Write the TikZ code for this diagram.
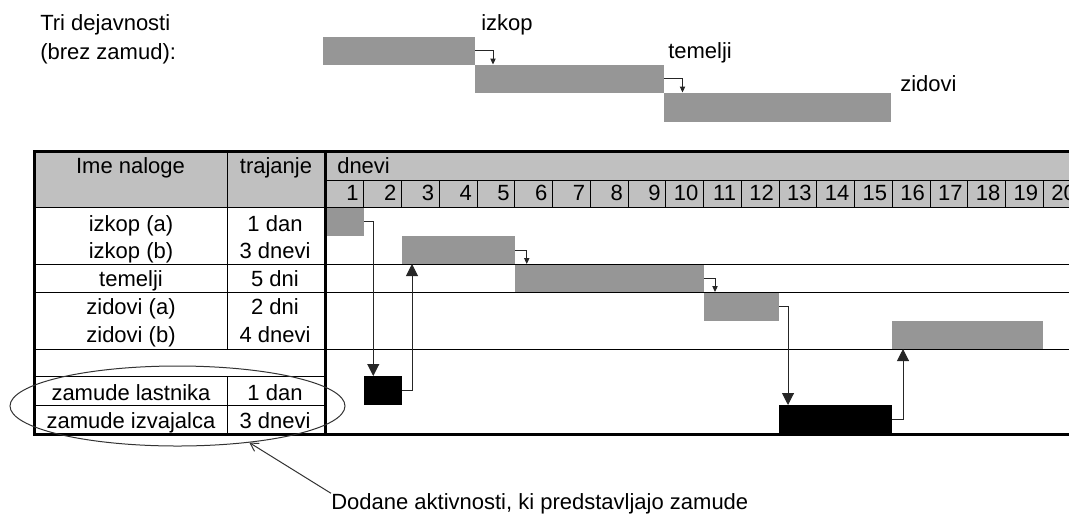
\documentclass[tikz,border=0pt]{standalone}
\usepackage{fontspec}
\setmainfont{Liberation Sans}
\usetikzlibrary{arrows.meta,calc,fit,shapes.geometric}

\definecolor{headgrey}{HTML}{C0C0C0}
\definecolor{bargrey}{HTML}{969696}

\tikzset{
  txt/.style={anchor=base west, inner sep=0pt},
  cell/.style={anchor=base, inner sep=0pt},
  daynum/.style={anchor=base east, inner sep=0pt},
  task/.style={fill=bargrey, inner sep=0pt, outer sep=0pt},
  delay/.style={fill=black, inner sep=0pt, outer sep=0pt},
  gridline/.style={line width=0.75pt},
  frame/.style={line width=2.25pt},
  dep/.style={line width=0.75pt, black!85, -{Triangle[length=9pt,width=9pt]}},
  link/.style={line width=0.75pt, black!85, -{Triangle[length=4.5pt,width=4pt]}},
  pointer/.style={line width=0.75pt, black!80, -{Straight Barb[length=6pt,width=7pt]}}
}

\begin{document}
\begin{tikzpicture}[x=0.75pt, y=-0.75pt, font=\fontsize{16.5}{20}\selectfont]
\clip (0,0) rectangle (1069,515);

% the three activities without delays
\node[txt] (intro) at (40,30.5) {Tri dejavnosti};
\node[txt] (intro2) at (40,59) {(brez zamud):};

\node[task, fit={(323,37) (475,64.5)}] (t1) {};
\node[task, fit={(475,64.5) (663.5,92.5)}] (t2) {};
\node[task, fit={(663.5,92.5) (890.5,122)}] (t3) {};

\node[txt] (t1name) at (481,30.5) {izkop};
\node[txt] (t2name) at (668,58) {temelji};
\node[txt] (t3name) at (900,91) {zidovi};

\draw[link] (t1.east) -| ($(t2.north west)+(18,0)$);
\draw[link] (t2.east) -| ($(t3.north west)+(19,0)$);

% table header
\fill[headgrey] (34,151) rectangle (1081,207);
\node[cell] (hname) at (130.5,173) {Ime naloge};
\node[cell] (hdur) at (276,173) {trajanje};
\node[txt] (hdays) at (337,173) {dnevi};

\node[daynum] (d1) at (358.75,200) {1};
\node[daynum] (d2) at (396.5,200) {2};
\node[daynum] (d3) at (434.25,200) {3};
\node[daynum] (d4) at (472,200) {4};
\node[daynum] (d5) at (509.75,200) {5};
\node[daynum] (d6) at (547.5,200) {6};
\node[daynum] (d7) at (585.25,200) {7};
\node[daynum] (d8) at (623,200) {8};
\node[daynum] (d9) at (660.75,200) {9};
\node[daynum] (d10) at (698.5,200) {10};
\node[daynum] (d11) at (736.25,200) {11};
\node[daynum] (d12) at (774,200) {12};
\node[daynum] (d13) at (811.75,200) {13};
\node[daynum] (d14) at (849.5,200) {14};
\node[daynum] (d15) at (887.25,200) {15};
\node[daynum] (d16) at (925,200) {16};
\node[daynum] (d17) at (962.75,200) {17};
\node[daynum] (d18) at (1000.5,200) {18};
\node[daynum] (d19) at (1038.25,200) {19};
\node[daynum] (d20) at (1076,200) {20};

% task names and durations
\node[cell] (n1) at (131,231) {izkop (a)};
\node[cell] (n2) at (131,258) {izkop (b)};
\node[cell] (n3) at (131,286) {temelji};
\node[cell] (n4) at (131,314) {zidovi (a)};
\node[cell] (n5) at (131,342) {zidovi (b)};
\node[cell] (n6) at (131,400) {zamude lastnika};
\node[cell] (n7) at (131,428) {zamude izvajalca};

\node[cell] (t1dur) at (275,231) {1 dan};
\node[cell] (t2dur) at (275,258) {3 dnevi};
\node[cell] (t3dur) at (275,286) {5 dni};
\node[cell] (t4dur) at (275,314) {2 dni};
\node[cell] (t5dur) at (275,342) {4 dnevi};
\node[cell] (t6dur) at (275,400) {1 dan};
\node[cell] (t7dur) at (275,428) {3 dnevi};

% bars
\node[task, fit={(326,207) (363.75,236)}] (izkopa) {};
\node[task, fit={(401.5,236) (514.75,264)}] (izkopb) {};
\node[task, fit={(514.75,264) (703.5,292)}] (temelji) {};
\node[task, fit={(703.5,292) (779,320.5)}] (zidovia) {};
\node[task, fit={(892.25,320.5) (1043.25,349)}] (zidovib) {};
\node[delay, fit={(363.75,376) (401.5,405)}] (lastnik) {};
\node[delay, fit={(779,405) (892.25,434)}] (izvajalec) {};

% grid
\draw[gridline] (34,207) -- (1081,207);
\draw[gridline] (325,180) -- (1081,180);
\draw[gridline] (34,264) -- (1081,264);
\draw[gridline] (34,292) -- (1081,292);
\draw[gridline] (34,349) -- (1081,349);
\draw[gridline] (34,376) -- (325,376);
\draw[gridline] (34,405) -- (325,405);
\draw[gridline] (227,151) -- (227,349);
\draw[gridline] (227,376) -- (227,434);
\draw[gridline] (363.75,180) -- (363.75,207) (401.5,180) -- (401.5,207)
  (439.25,180) -- (439.25,207) (477,180) -- (477,207)
  (514.75,180) -- (514.75,207) (552.5,180) -- (552.5,207)
  (590.25,180) -- (590.25,207) (628,180) -- (628,207)
  (665.75,180) -- (665.75,207) (703.5,180) -- (703.5,207)
  (741.25,180) -- (741.25,207) (779,180) -- (779,207)
  (816.75,180) -- (816.75,207) (854.5,180) -- (854.5,207)
  (892.25,180) -- (892.25,207) (930,180) -- (930,207)
  (967.75,180) -- (967.75,207) (1005.5,180) -- (1005.5,207)
  (1043.25,180) -- (1043.25,207);

\draw[frame] (1081,151) -- (34,151) -- (34,434) -- (1081,434);
\draw[frame] (325,151) -- (325,434);

% dependencies
\draw[dep] (izkopa.east) -| ($(lastnik.north west)+(9.5,0)$);
\draw[dep] (lastnik.east) -| ($(izkopb.south west)+(10.5,0)$);
\draw[link] (izkopb.east) -| ($(temelji.north west)+(12,0)$);
\draw[link] (temelji.east) -| ($(zidovia.north west)+(11.5,0)$);
\draw[dep] (zidovia.east) -| ($(izvajalec.north west)+(9,0)$);
\draw[dep] (izvajalec.east) -| ($(zidovib.south west)+(10.75,0)$);

% delay rows
\node[draw, ellipse, line width=0.75pt, black!80, minimum width=251.25pt,
  minimum height=60pt, inner sep=0pt] (delays) at (177.5,406) {};
\node[txt] (note) at (331,509.5) {Dodane aktivnosti, ki predstavljajo zamude};
\draw[pointer] (note.north west) -- (delays.-27);

\end{tikzpicture}
\end{document}
